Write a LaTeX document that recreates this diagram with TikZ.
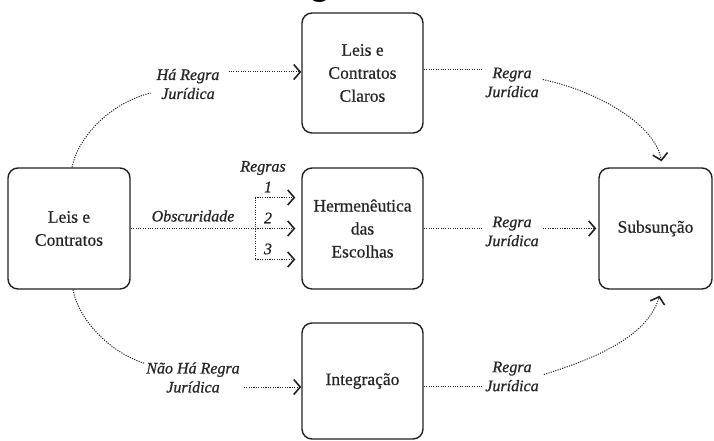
\documentclass[tikz,border=0pt]{standalone}
\usepackage{fontspec}
\setmainfont{Liberation Serif}[FakeBold=0.6]
\newfontfamily\lblfont{Liberation Serif Italic}[FakeBold=0.8]
\newfontfamily\titlefont{Carlito}
\usetikzlibrary{arrows.meta,calc}
\definecolor{ink}{HTML}{222222}
\tikzset{
  box/.style={draw=ink, line width=1.4pt, rounded corners=10pt, align=center,
    font=\fontsize{17.5}{23}\selectfont, text=black!85, inner sep=0pt},
  lbl/.style={align=center, font=\lblfont\fontsize{16}{19}\selectfont, text=black!85, inner sep=2pt},
  conn/.style={draw=ink, line width=1pt, dash pattern=on 1.1pt off 1.3pt},
  arr/.style={conn, -{Straight Barb[length=6.5pt,width=15pt,line width=1.6pt]}},
}
\begin{document}
\begin{tikzpicture}[x=1pt,y=-1pt]
\useasboundingbox (0,0) rectangle (714,441);
\fill[white] (0,0) rectangle (714,441);
\node[anchor=base west, font=\titlefont\bfseries\fontsize{41}{41}\selectfont, text=black, inner sep=0pt] (title) at (281,-4) {Figura 1};

% boxes
\node[box, minimum width=122pt, minimum height=121pt] (L) at (69,228.5) {Leis e\\Contratos};
\node[box, minimum width=121pt, minimum height=120pt] (T) at (362.5,73) {Leis e\\Contratos\\Claros};
\node[box, minimum width=121pt, minimum height=121pt] (H) at (362.5,228.5) {Hermenêutica\\das\\Escolhas};
\node[box, minimum width=121pt, minimum height=116pt] (I) at (362.5,381) {Integração};
\node[box, minimum width=113pt, minimum height=121pt] (S) at (655.5,228.5) {Subsunção};

% labels
\node[lbl] (hr) at (188,84) {Há Regra\\Jurídica};
\node[lbl] (tr) at (512,82.5) {Regra\\Jurídica};
\node[lbl] (ob) at (193,216) {Obscuridade};
\node[lbl] (rg) at (263,168) {Regras};
\node[lbl] (n1) at (268,187) {1};
\node[lbl] (n2) at (268,218) {2};
\node[lbl] (n3) at (268,249) {3};
\node[lbl] (mr) at (512,231.5) {Regra\\Jurídica};
\node[lbl] (nr) at (193,377.5) {Não Há Regra\\Jurídica};
\node[lbl] (br) at (512,376.5) {Regra\\Jurídica};

% top path
\draw[conn] ([xshift=3pt]L.north) .. controls (78,138) and (108,104) .. ($(hr.west)+(-4,9)$);
\draw[arr] ($(hr.east |- T.west)+(7,-1)$) -- ([yshift=1pt]T.west);
\draw[conn] ([yshift=3pt]T.east) -- ($(tr.west |- T.east)+(0,-3)$);
\draw[arr] ($(tr.east)+(2,-3)$) .. controls (600,92) and (655,125) .. ($(S.north)+(6,-6)$);

% middle path
\coordinate (bp) at (255,228.5);
\draw[conn] (L.east) -- (bp);
\draw[conn] ($(bp)+(0,-31)$) -- ($(bp)+(0,31)$);
\foreach \dy in {-31,0,31} \draw[arr, shorten >=6pt] ($(bp)+(0,\dy)$) -- ($(H.west)+(0,\dy)$);
\draw[conn] (H.east) -- (mr.west |- H.east);
\draw[arr, shorten >=2pt] ($(mr.east |- H.east)+(2,0)$) -- (S.west);

% bottom path
\draw[conn] ([xshift=4pt]L.south) .. controls (78,318) and (108,352) .. ($(nr.west)+(1,-14)$);
\draw[arr] ($(nr.east)+(2,9.5)$) -- ($(I.west)+(0,6)$);
\draw[conn] ($(I.east)+(0,5)$) -- ($(br.west |- I.east)+(0,5)$);
\draw[arr] ($(br.east)+(3,-2)$) .. controls (600,357) and (648,335) .. ($(S.south)+(4,6)$);
\end{tikzpicture}
\end{document}
